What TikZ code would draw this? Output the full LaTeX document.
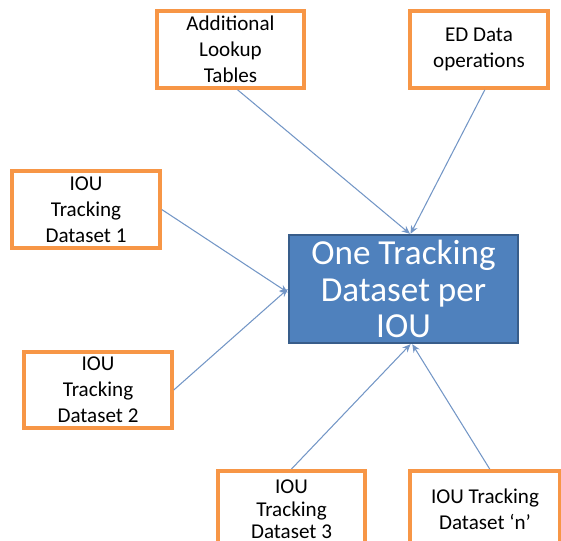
\documentclass[tikz,border=0pt]{standalone}
\usepackage{fontspec}
\setmainfont{Carlito}
\usetikzlibrary{arrows.meta}
\definecolor{boxorange}{RGB}{247,150,70}
\definecolor{mainblue}{RGB}{79,129,189}
\definecolor{mainedge}{RGB}{56,93,138}
\definecolor{linkblue}{RGB}{115,150,198}
\begin{document}
\begin{tikzpicture}[x=0.03cm, y=-0.03cm,
  tbox/.style={draw=boxorange, line width=3pt, fill=white, align=center,
    inner sep=0pt, minimum width=4.42cm, minimum height=2.31cm,
    font=\fontsize{18}{22}\selectfont},
  link/.style={draw=linkblue, line width=0.9pt, -{Stealth[length=7pt,width=6pt]}}]

\useasboundingbox (0,0) rectangle (561,541);
\clip (0,0) rectangle (561,541);

%boxes top
\node [tbox] (add) at (230.5,49.5) {Additional\\Lookup\\Tables};
\node [tbox, minimum width=4.14cm] (ed) at (479,49.5) {ED Data\\operations};

%boxes left
\node [tbox, minimum width=4.44cm] (ds1) at (86,209.5) {IOU\\Tracking\\Dataset 1};
\node [tbox, minimum width=4.44cm, minimum height=2.28cm] (ds2) at (98,390) {IOU\\Tracking\\Dataset 2};

%boxes bottom
\node [tbox, anchor=north, font=\fontsize{18}{19}\selectfont] (ds3) at (291.5,469) {IOU\\Tracking\\Dataset 3};
\node [tbox, anchor=north, minimum width=4.5cm] (dsn) at (485,469) {IOU Tracking\\Dataset `n'};

%dataset
\node [draw=mainedge, line width=2pt, fill=mainblue, text=white, align=center,
  minimum width=6.87cm, minimum height=3.24cm, inner sep=0pt,
  font=\fontsize{30}{31.5}\selectfont] (one) at (403.5,289) {One Tracking\\Dataset per\\IOU};

%links
\draw [link] ([xshift=6pt]add.south) -- ([xshift=5.5pt]one.north);
\draw [link] ([xshift=5pt]ed.south) -- ([xshift=6pt]one.north);
\draw [link] (ds1.east) -- ([yshift=-3pt]one.west);
\draw [link] (ds2.east) -- (one.west);
\draw [link] (ds3.north) -- ([xshift=6pt]one.south);
\draw [link] ([xshift=4pt]dsn.north) -- ([xshift=7.5pt]one.south);

\end{tikzpicture}
\end{document}
